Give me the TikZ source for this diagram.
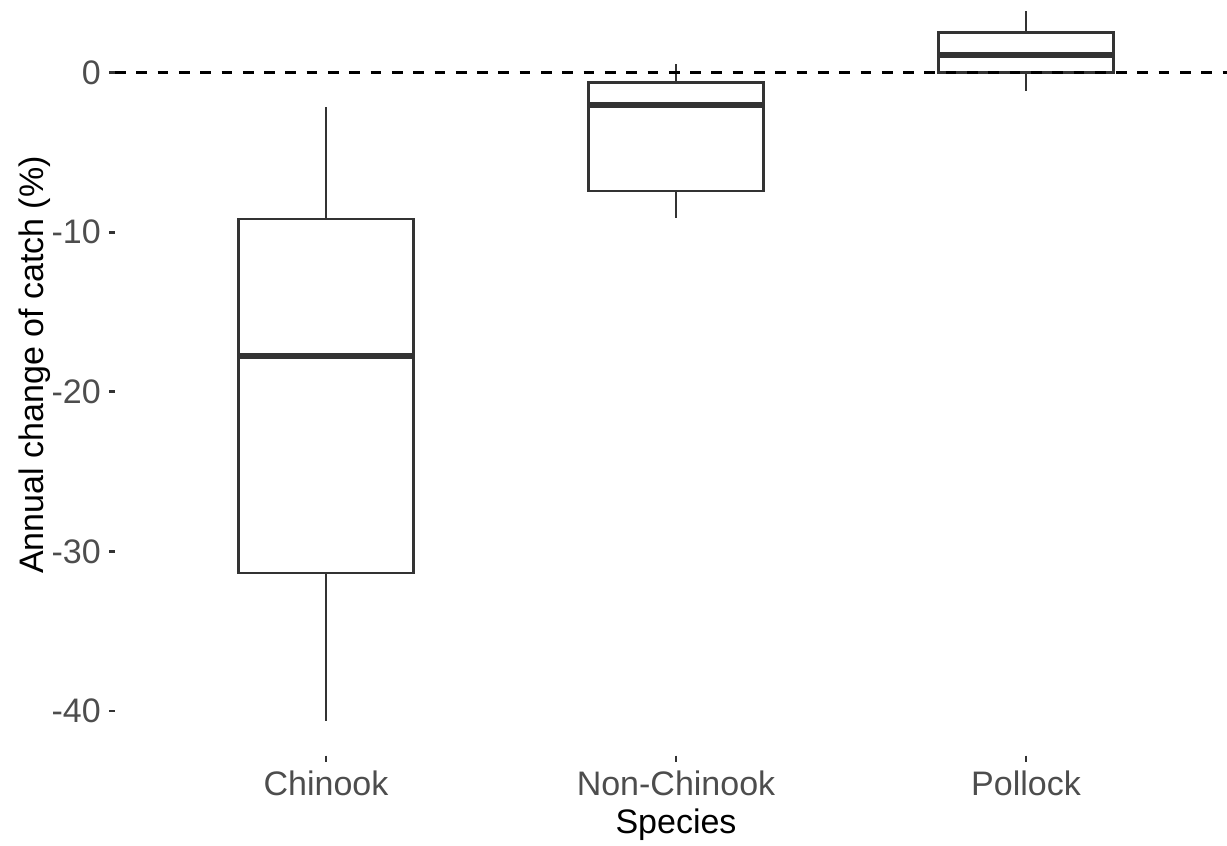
\documentclass[tikz,border=0pt]{standalone}
\usepackage{fontspec}
\setmainfont{Liberation Sans}
\definecolor{boxc}{HTML}{333333}
\definecolor{labc}{HTML}{4D4D4D}
\begin{document}
\begin{tikzpicture}[x=1pt,y=-1pt,
  boxline/.style={draw=boxc, line width=2.8pt, fill=white},
  medline/.style={draw=boxc, line width=5.6pt},
  whisk/.style={draw=boxc, line width=2.8pt},
  tickmark/.style={draw=boxc, line width=2.8pt},
  zeroline/.style={draw=black, line width=3.8pt, dash pattern=on 10.7pt off 10.6pt},
  ticklab/.style={text=labc, font=\fontsize{34}{40}\selectfont, inner sep=0pt},
  axtitle/.style={text=black, font=\fontsize{34}{40}\selectfont, inner sep=0pt}]
\useasboundingbox (0,0) rectangle (1227,846);

% Chinook
\draw[whisk] (326,219) -- (326,106.5);
\draw[whisk] (326,573) -- (326,720.5);
\draw[boxline] (238.3,219) rectangle (413.7,573);
\draw[medline] (238.3,356) -- (413.7,356);

% Non-Chinook
\draw[whisk] (676,82.3) -- (676,64);
\draw[whisk] (676,191) -- (676,218);
\draw[boxline] (588.3,82.3) rectangle (763.7,191);
\draw[medline] (588.3,105) -- (763.7,105);

% Pollock
\draw[whisk] (1026,32.7) -- (1026,11);
\draw[whisk] (1026,72.3) -- (1026,90.7);
\draw[boxline] (938.3,32.7) rectangle (1113.7,72.3);
\draw[medline] (938.3,55) -- (1113.7,55);

% zero reference line
\coordinate (z0) at (115,72.5);
\coordinate (z1) at (1227,72.5);
\draw[zeroline] (z0) -- (z1);

% y ticks and labels
\foreach \v/\yy in {0/72.5,-10/232.1,-20/391.7,-30/551.3,-40/710.9}{
  \draw[tickmark] (109,\yy) -- (115,\yy);
  \node[ticklab, anchor=east] (yl\v) at (101,\yy) {\v};
}

% x ticks and labels
\foreach \xx/\nm/\lab in {326/a/Chinook,676/b/Non-Chinook,1026/c/Pollock}{
  \draw[tickmark] (\xx,755.5) -- (\xx,761.5);
  \node[ticklab, anchor=base] (xl\nm) at (\xx,795) {\lab};
}

% axis titles
\node[axtitle, anchor=base] (xtitle) at (676,833) {Species};
\node[axtitle, rotate=90, anchor=base] (ytitle) at (43,365) {Annual change of catch (\%)};
\end{tikzpicture}
\end{document}
